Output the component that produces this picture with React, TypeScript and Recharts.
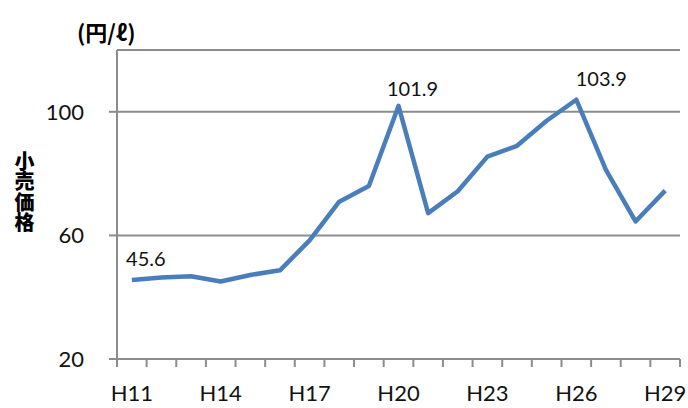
import { LineChart, Line, XAxis, YAxis, CartesianGrid, LabelList } from "recharts";

const years = [
  "H11", "H12", "H13", "H14", "H15", "H16", "H17", "H18", "H19", "H20",
  "H21", "H22", "H23", "H24", "H25", "H26", "H27", "H28", "H29",
];
const prices = [
  45.6, 46.4, 46.8, 45.1, 47.2, 48.7, 58.4, 70.9, 76.0, 101.9,
  67.2, 74.3, 85.5, 89.0, 97.1, 103.9, 81.2, 64.5, 74.5,
];
const yTicks = [20, 60, 100];
const yDomain = [20, 120];
const shownYears = ["H11", "H14", "H17", "H20", "H23", "H26", "H29"];
const labeledYears = ["H11", "H20", "H26"];

const data = years.map((year, i) => ({ year, price: prices[i] }));

const W = 688;
const H = 408;
const margin = { top: 50, right: 8, bottom: 9, left: 0 };
const Y_AXIS_W = 117;
const X_AXIS_H = 40;
const plotW = W - margin.left - margin.right - Y_AXIS_W;
const band = plotW / years.length;

const GRAY = "#8c8c8c";
const BLUE = "#4a7ebb";
const FONT = "Lato, 'Open Sans', sans-serif";
const JP_FONT = "'Noto Sans CJK JP', sans-serif";

// Excel-style category axis: tick marks sit between categories, labels every third year
const XTick = (props: any) => {
  const { x, y, payload, index } = props;
  const last = index === years.length - 1;
  return (
    <g>
      <line x1={x - band / 2} y1={y} x2={x - band / 2} y2={y + 8} stroke={GRAY} strokeWidth={2} />
      {last && <line x1={x + band / 2} y1={y} x2={x + band / 2} y2={y + 8} stroke={GRAY} strokeWidth={2} />}
      {shownYears.includes(payload.value) && (
        <text x={x} y={y + 26} dy="0.71em" textAnchor="middle" fontSize={22} fill="#111" fontFamily={FONT}>
          {payload.value}
        </text>
      )}
    </g>
  );
};

const labelShift: Record<string, [number, number]> = {
  H11: [14, -14],
  H20: [14, -10],
  H26: [25, -14],
};

const PeakLabel = (props: any) => {
  const { x, y, value, index } = props;
  const year = years[index];
  if (!labeledYears.includes(year)) return null;
  const [dx, dy] = labelShift[year];
  return (
    <text x={x + dx} y={y + dy} textAnchor="middle" fontSize={20} fill="#111" fontFamily={FONT}>
      {value.toFixed(1)}
    </text>
  );
};

export default function App() {
  return (
    <div style={{ position: "absolute", left: 0, top: 0, width: W, height: H, background: "#fff" }}>
      <LineChart width={W} height={H} data={data} margin={margin}>
        <CartesianGrid vertical={false} stroke={GRAY} strokeWidth={2} />
        <XAxis
          dataKey="year"
          scale="band"
          interval={0}
          height={X_AXIS_H}
          tickSize={0}
          tickMargin={0}
          tickLine={false}
          axisLine={{ stroke: GRAY, strokeWidth: 2 }}
          tick={<XTick />}
        />
        <YAxis
          width={Y_AXIS_W}
          domain={yDomain}
          ticks={yTicks}
          type="number"
          tickSize={8}
          tickMargin={25}
          tickLine={{ stroke: GRAY, strokeWidth: 2 }}
          axisLine={{ stroke: GRAY, strokeWidth: 2 }}
          tick={{ fontSize: 22, fill: "#111", fontFamily: FONT }}
        />
        <Line
          type="linear"
          dataKey="price"
          stroke={BLUE}
          strokeWidth={4.5}
          strokeLinejoin="round"
          dot={false}
          isAnimationActive={false}
        >
          <LabelList dataKey="price" content={<PeakLabel />} />
        </Line>
      </LineChart>
      <div
        style={{
          position: "absolute",
          left: 77,
          top: 18,
          fontFamily: JP_FONT,
          fontWeight: 700,
          fontSize: 22,
          lineHeight: "26px",
          color: "#000",
          whiteSpace: "nowrap",
        }}
      >
        (円/ℓ)
      </div>
      <div
        style={{
          position: "absolute",
          left: 13,
          top: 151,
          writingMode: "vertical-rl",
          fontFamily: JP_FONT,
          fontWeight: 900,
          fontSize: 20,
          lineHeight: "22px",
          letterSpacing: 0.5,
          color: "#000",
        }}
      >
        小売価格
      </div>
    </div>
  );
}
